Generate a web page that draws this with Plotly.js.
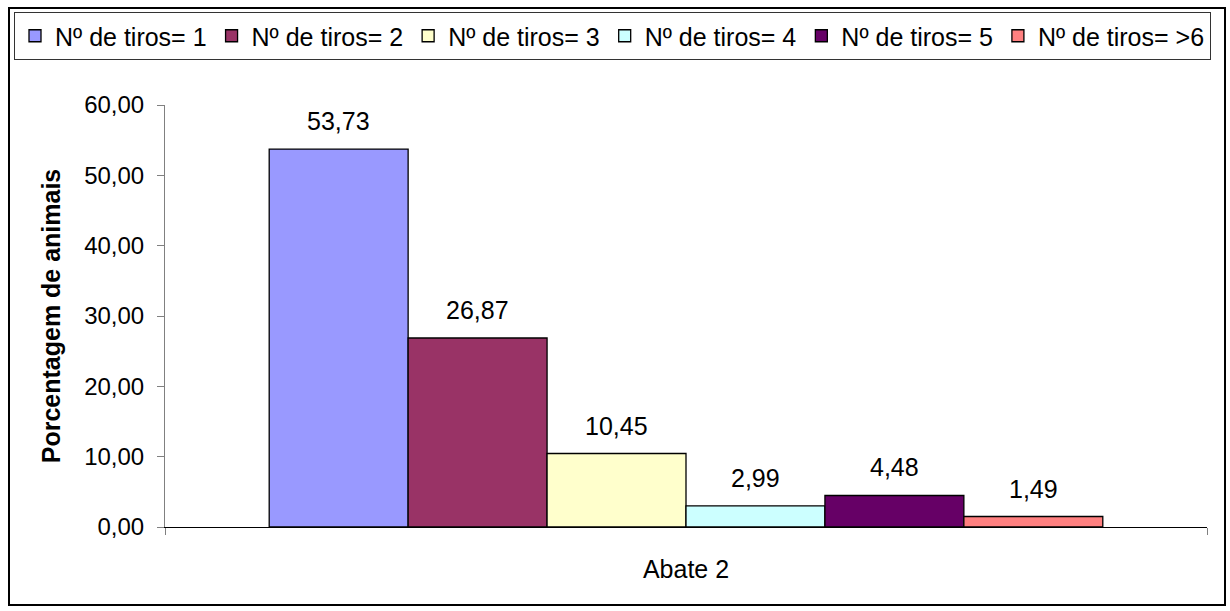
<!DOCTYPE html>
<html>
<head>
<meta charset="utf-8">
<script src="https://cdn.plot.ly/plotly-3.0.1.min.js"></script>
<style>html,body{margin:0;padding:0;background:#fff;}#chart{width:1230px;height:611px;}</style>
</head>
<body>
<div id="chart"></div>
<script>
const category = ['Abate 2'];
const seriesNames = ['Nº de tiros= 1','Nº de tiros= 2','Nº de tiros= 3','Nº de tiros= 4','Nº de tiros= 5','Nº de tiros= >6'];
const seriesValues = [53.73, 26.87, 10.45, 2.99, 4.48, 1.49];
const seriesColors = ['#9999FF','#993366','#FFFFCC','#CCFFFF','#660066','#FF8080'];
const yTitle = 'Porcentagem de animais';

const W = 1230, H = 611;
const M = {l:165, r:23, t:105, b:84};
const pw = W - M.l - M.r, ph = H - M.t - M.b;
const bargap = 0.2;
const font = 'Liberation Sans, Arial, sans-serif';

const traces = seriesNames.map((n,i)=>({
  type:'bar', name:n, x:category, y:[seriesValues[i]],
  marker:{color:seriesColors[i], line:{color:'#000', width:1.3}},
  hoverinfo:'skip'
}));

const nb = seriesNames.length;
const bw = (1-bargap)/nb;
const annotations = seriesValues.map((v,i)=>({
  x: -(1-bargap)/2 + (i+0.5)*bw, y: v, xref:'x', yref:'y',
  text: v.toFixed(2).replace('.',','), showarrow:false,
  yanchor:'bottom', yshift:12,
  font:{family:font, size:25, color:'#000'}
}));

const shapes = [{
  type:'rect', xref:'paper', yref:'paper',
  x0:(9-M.l)/pw, x1:(1225-M.l)/pw,
  y0:(H-M.b-605)/ph, y1:(H-M.b-8)/ph,
  line:{color:'#000', width:2}, fillcolor:'rgba(0,0,0,0)', layer:'below'
}];

const layout = {
  width:W, height:H, margin:M,
  paper_bgcolor:'#fff', plot_bgcolor:'#fff',
  font:{family:font, size:25, color:'#000'},
  separators:',.',
  barmode:'group', bargap:bargap, bargroupgap:0,
  showlegend:true,
  legend:{orientation:'h', x:(14-M.l)/pw, xanchor:'left', y:(H-M.b-12)/ph, yanchor:'top',
    bordercolor:'#333', borderwidth:1, bgcolor:'#fff',
    font:{family:font, size:25, color:'#000'}, itemwidth:30, traceorder:'normal'},
  xaxis:{type:'category', showline:true, linecolor:'#000', linewidth:1,
    ticks:'outside', tickson:'boundaries', ticklen:7, tickcolor:'#808080',
    showgrid:false, zeroline:false, ticklabelstandoff:20,
    tickfont:{family:font, size:25, color:'#000'}},
  yaxis:{range:[0,60], dtick:10, tick0:0, tickformat:'.2f',
    showline:true, linecolor:'#808080', linewidth:1,
    ticks:'outside', ticklen:7, tickcolor:'#808080',
    showgrid:false, zeroline:false, ticklabelstandoff:8,
    tickfont:{family:font, size:24, color:'#000'},
    title:{text:yTitle, font:{family:font, size:25, color:'#000', weight:'bold'}, standoff:16}},
  annotations:annotations, shapes:shapes
};

Plotly.newPlot('chart', traces, layout, {displayModeBar:false, staticPlot:true});
</script>
</body>
</html>
